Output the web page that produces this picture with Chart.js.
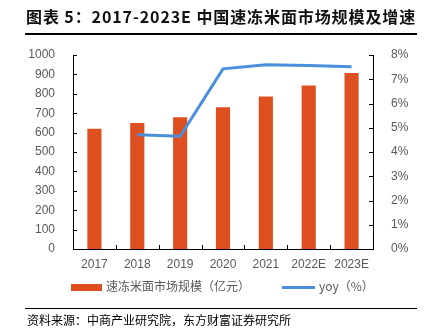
<!DOCTYPE html>
<html>
<head>
<meta charset="utf-8">
<script src="https://cdn.jsdelivr.net/npm/chart.js@4"></script>
<style>
  body { margin: 0; background: #fff; }
  #wrap { position: relative; width: 425px; height: 336px; overflow: hidden; }
  #chart { position: absolute; left: 0; top: 0; }
  .title {
    position: absolute; left: 26px; top: 4px; width: 395px; letter-spacing: 0.9px;
    font: bold 16px "Noto Sans CJK SC", sans-serif; color: #111; white-space: nowrap;
  }
  .rule { position: absolute; left: 25px; width: 392px; height: 1px; background: #000; }
  .source {
    position: absolute; left: 27px; top: 311px;
    font: 12px "Noto Sans CJK SC", sans-serif; color: #000; white-space: nowrap;
  }
  .legend {
    position: absolute; top: 277px; font: 12px "Noto Sans CJK SC", sans-serif;
    color: #595959; white-space: nowrap;
  }
  .legend span.sw { display: inline-block; vertical-align: middle; margin-right: 4px; }
</style>
</head>
<body>
<div id="wrap">
  <canvas id="chart" width="425" height="336"></canvas>
  <div class="title">图表 5：2017-2023E 中国速冻米面市场规模及增速</div>
  <div class="rule" style="top:33px;height:2px"></div>
  <div class="legend" style="left:71px"><span class="sw" style="width:31px;height:7px;background:#DE4F1F"></span>速冻米面市场规模（亿元）</div>
  <div class="legend" style="left:282px"><span class="sw" style="width:33px;height:3px;background:#4A8FDB"></span>yoy（%）</div>
  <div class="rule" style="top:308px"></div>
  <div class="source">资料来源：中商产业研究院，东方财富证券研究所</div>
</div>
<script>
// data
var years = ["2017", "2018", "2019", "2020", "2021", "2022E", "2023E"];
var marketSize = [620, 649, 679, 731, 786, 843, 907];
var yoy = [null, 4.71, 4.65, 7.43, 7.6, 7.57, 7.52];

var gray = "#595959";

// ticks drawn inward, like the original
var innerTicks = {
  id: "innerTicks",
  afterDraw: function (chart) {
    var ctx = chart.ctx;
    var a = chart.chartArea;
    ctx.save();
    ctx.strokeStyle = "#000";
    ctx.lineWidth = 1;
    ctx.beginPath();
    chart.scales.y.ticks.forEach(function (t) {
      var y = Math.round(chart.scales.y.getPixelForValue(t.value)) + 0.5;
      ctx.moveTo(a.left, y);
      ctx.lineTo(a.left + 4, y);
    });
    chart.scales.y2.ticks.forEach(function (t) {
      var y = Math.round(chart.scales.y2.getPixelForValue(t.value)) + 0.5;
      ctx.moveTo(a.right, y);
      ctx.lineTo(a.right - 4, y);
    });
    var x = chart.scales.x;
    for (var i = 1; i < years.length; i++) {
      var px = Math.round((x.getPixelForValue(i - 1) + x.getPixelForValue(i)) / 2) + 0.5;
      ctx.moveTo(px, a.bottom);
      ctx.lineTo(px, a.bottom - 4);
    }
    ctx.stroke();
    ctx.restore();
  },
};

new Chart(document.getElementById("chart"), {
  type: "bar",
  data: {
    labels: years,
    datasets: [
      {
        label: "速冻米面市场规模（亿元）",
        data: marketSize,
        backgroundColor: "#DE4F1F",
        barPercentage: 0.33,
        categoryPercentage: 1,
        yAxisID: "y",
        order: 2,
      },
      {
        type: "line",
        label: "yoy（%）",
        data: yoy,
        borderColor: "#4A8FDB",
        borderWidth: 3,
        pointRadius: 0,
        tension: 0,
        yAxisID: "y2",
        order: 1,
      },
    ],
  },
  options: {
    responsive: false,
    animation: false,
    layout: { padding: { top: 55, bottom: 57, left: 0, right: 0 } },
    plugins: {
      legend: { display: false },
      tooltip: { enabled: false },
    },
    scales: {
      x: {
        grid: { display: false },
        border: { display: true, color: "#000", width: 1 },
        ticks: { color: gray, font: { family: "Liberation Sans", size: 12 }, padding: 0 },
        afterFit: function (s) { s.height = 30; },
      },
      y: {
        position: "left",
        min: 0,
        max: 1000,
        grid: { display: false },
        border: { display: true, color: "#000", width: 1 },
        ticks: {
          stepSize: 100,
          color: gray,
          font: { family: "Liberation Sans", size: 12 },
          padding: 10,
          callback: function (v) { return String(v); },
        },
        afterFit: function (s) { s.width = 73; },
      },
      y2: {
        position: "right",
        min: 0,
        max: 8,
        grid: { display: false },
        border: { display: true, color: "#000", width: 1 },
        ticks: {
          stepSize: 1,
          color: gray,
          font: { family: "Liberation Sans", size: 12 },
          padding: 10,
          callback: function (v) { return v + "%"; },
        },
        afterFit: function (s) { s.width = 52; },
      },
    },
  },
  plugins: [innerTicks],
});
</script>
</body>
</html>
